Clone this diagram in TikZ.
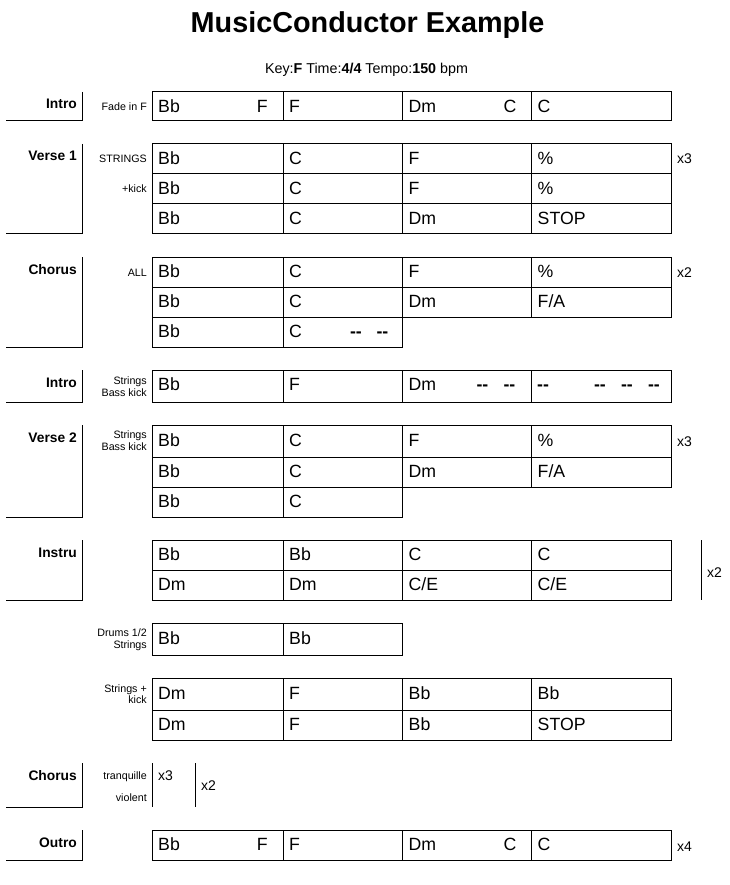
\documentclass[tikz,border=0pt]{standalone}
\usepackage{fontspec}
\setmainfont{Liberation Sans}
\newcommand\chordsz{\fontsize{17.7}{20}\selectfont}
\newcommand\notesz{\fontsize{10.7}{12}\selectfont}
\newcommand\sectsz{\fontsize{13.8}{16}\selectfont\bfseries}
\newcommand\repsz{\fontsize{14}{16}\selectfont}
\tikzset{
  chord/.style={anchor=base west, font=\chordsz, inner sep=0pt},
  chordr/.style={anchor=base east, font=\chordsz, inner sep=0pt},
  dashmark/.style={anchor=base east, font=\chordsz\bfseries, inner sep=0pt},
  dashmarkl/.style={anchor=base west, font=\chordsz\bfseries, inner sep=0pt},
  note/.style={anchor=base east, font=\notesz, inner sep=0pt},
  sect/.style={anchor=base east, font=\sectsz, inner sep=0pt},
  rep/.style={anchor=base west, font=\repsz, inner sep=0pt},
  gridline/.style={line width=1pt, black},
  bracket/.style={line width=1pt, black}
}
% 4-cell row: #1 top, #2 bottom
\newcommand\rowfour[2]{\draw[gridline] (152,#1) rectangle (671.5,#2) (283,#1) -- (283,#2) (402.5,#1) -- (402.5,#2) (531.5,#1) -- (531.5,#2);}
\newcommand\rowtwo[2]{\draw[gridline] (152,#1) rectangle (402.5,#2) (283,#1) -- (283,#2);}
\begin{document}
\begin{tikzpicture}[x=1pt,y=-1pt]
\useasboundingbox (0,0) rectangle (729,885);
\fill[white] (0,0) rectangle (729,885);

% title
\node[anchor=base, inner sep=0pt, font=\fontsize{28.8}{32}\selectfont\bfseries] (title) at (367.5,33) {MusicConductor Example};
\node[anchor=base, inner sep=0pt, font=\fontsize{14.3}{16}\selectfont] (meta) at (366.5,74) {Key:\textbf{F} Time:\textbf{4/4} Tempo:\textbf{150} bpm};

% ---------- Intro ----------
\draw[bracket] (82,92) -- (82,121) -- (6,121);
\node[sect] (s1) at (77,109) {Intro};
\node[note] (n1) at (147,111) {Fade in F};
\rowfour{92}{121}
\node[chord] (i1a) at (158,112.5) {Bb};
\node[chordr] (i1a2) at (268,112.5) {F};
\node[chord] (i1b) at (289,112.5) {F};
\node[chord] (i1c) at (408.5,112.5) {Dm};
\node[chordr] (i1c2) at (516.5,112.5) {C};
\node[chord] (i1d) at (537.5,112.5) {C};

% ---------- Verse 1 ----------
\draw[bracket] (82,144) -- (82,234) -- (6,234);
\node[sect] (s2) at (77,161) {Verse 1};
\node[note] (n2a) at (147,163) {STRINGS};
\node[note] (n2b) at (147,193) {+kick};
\rowfour{144}{174}
\rowfour{174}{204}
\rowfour{204}{234}
\node[chord] (v1a) at (158,164.5) {Bb};
\node[chord] (v1b) at (289,164.5) {C};
\node[chord] (v1c) at (408.5,164.5) {F};
\node[chord] (v1d) at (537.5,164.5) {\%};
\node[chord] (v1e) at (158,194.5) {Bb};
\node[chord] (v1f) at (289,194.5) {C};
\node[chord] (v1g) at (408.5,194.5) {F};
\node[chord] (v1h) at (537.5,194.5) {\%};
\node[chord] (v1i) at (158,224.5) {Bb};
\node[chord] (v1j) at (289,224.5) {C};
\node[chord] (v1k) at (408.5,224.5) {Dm};
\node[chord] (v1l) at (537.5,224.5) {STOP};
\node[rep] (r2) at (677,164) {x3};

% ---------- Chorus ----------
\draw[bracket] (82,257) -- (82,347) -- (6,347);
\node[sect] (s3) at (77,274) {Chorus};
\node[note] (n3) at (147,276) {ALL};
\rowfour{257}{287}
\rowfour{287}{317}
\rowtwo{317}{347}
\node[chord] (c1a) at (158,277.5) {Bb};
\node[chord] (c1b) at (289,277.5) {C};
\node[chord] (c1c) at (408.5,277.5) {F};
\node[chord] (c1d) at (537.5,277.5) {\%};
\node[chord] (c1e) at (158,307.5) {Bb};
\node[chord] (c1f) at (289,307.5) {C};
\node[chord] (c1g) at (408.5,307.5) {Dm};
\node[chord] (c1h) at (537.5,307.5) {F/A};
\node[chord] (c1i) at (158,337.5) {Bb};
\node[chord] (c1j) at (289,337.5) {C};
\node[dashmark] (c1k) at (362,337.5) {-{}-};
\node[dashmark] (c1l) at (388.5,337.5) {-{}-};
\node[rep] (r3) at (677,277) {x2};

% ---------- Intro 2 ----------
\draw[bracket] (82,370) -- (82,402) -- (6,402);
\node[sect] (s4) at (77,387) {Intro};
\node[note] (n4a) at (147,384) {Strings};
\node[note] (n4b) at (147,396) {Bass kick};
\rowfour{370}{402}
\node[chord] (i2a) at (158,390.5) {Bb};
\node[chord] (i2b) at (289,390.5) {F};
\node[chord] (i2c) at (408.5,390.5) {Dm};
\node[dashmark] (i2d) at (488.5,390.5) {-{}-};
\node[dashmark] (i2e) at (515.5,390.5) {-{}-};
\node[dashmarkl] (i2f) at (537,390.5) {-{}-};
\node[dashmark] (i2g) at (606,390.5) {-{}-};
\node[dashmark] (i2h) at (633,390.5) {-{}-};
\node[dashmark] (i2i) at (660,390.5) {-{}-};

% ---------- Verse 2 ----------
\draw[bracket] (82,425) -- (82,517) -- (6,517);
\node[sect] (s5) at (77,442) {Verse 2};
\node[note] (n5a) at (147,438.5) {Strings};
\node[note] (n5b) at (147,450.5) {Bass kick};
\rowfour{425}{457}
\rowfour{457}{487}
\rowtwo{487}{517}
\node[chord] (v2a) at (158,446) {Bb};
\node[chord] (v2b) at (289,446) {C};
\node[chord] (v2c) at (408.5,446) {F};
\node[chord] (v2d) at (537.5,446) {\%};
\node[chord] (v2e) at (158,477.5) {Bb};
\node[chord] (v2f) at (289,477.5) {C};
\node[chord] (v2g) at (408.5,477.5) {Dm};
\node[chord] (v2h) at (537.5,477.5) {F/A};
\node[chord] (v2i) at (158,507.5) {Bb};
\node[chord] (v2j) at (289,507.5) {C};
\node[rep] (r5) at (677,446) {x3};

% ---------- Instru ----------
\draw[bracket] (82,540) -- (82,600) -- (6,600);
\node[sect] (s6) at (77,557) {Instru};
\rowfour{540}{570}
\rowfour{570}{600}
\node[chord] (ia) at (158,560.5) {Bb};
\node[chord] (ib) at (289,560.5) {Bb};
\node[chord] (ic) at (408.5,560.5) {C};
\node[chord] (id) at (537.5,560.5) {C};
\node[chord] (ie) at (158,590.5) {Dm};
\node[chord] (if) at (289,590.5) {Dm};
\node[chord] (ig) at (408.5,590.5) {C/E};
\node[chord] (ih) at (537.5,590.5) {C/E};
\coordinate (rep6t) at (701,540);
\coordinate (rep6b) at (701,600);
\draw[bracket] (rep6t) -- (rep6b);
\node[rep] (r6) at (707,577) {x2};

% ---------- Drums row ----------
\node[note] (n7a) at (147,636) {Drums 1/2};
\node[note] (n7b) at (147,648) {Strings};
\rowtwo{623}{655}
\node[chord] (da) at (158,644) {Bb};
\node[chord] (db) at (289,644) {Bb};

% ---------- Strings + kick ----------
\node[note] (n8a) at (147,692) {Strings +};
\node[note] (n8b) at (147,703.5) {kick};
\rowfour{678}{710}
\rowfour{710}{740}
\node[chord] (ka) at (158,699) {Dm};
\node[chord] (kb) at (289,699) {F};
\node[chord] (kc) at (408.5,699) {Bb};
\node[chord] (kd) at (537.5,699) {Bb};
\node[chord] (ke) at (158,730.5) {Dm};
\node[chord] (kf) at (289,730.5) {F};
\node[chord] (kg) at (408.5,730.5) {Bb};
\node[chord] (kh) at (537.5,730.5) {STOP};

% ---------- Chorus 2 ----------
\draw[bracket] (82,763) -- (82,807) -- (6,807);
\node[sect] (s9) at (77,780) {Chorus};
\node[note] (n9a) at (147,779) {tranquille};
\node[note] (n9b) at (147,801) {violent};
\draw[bracket] (152,763) -- (152,807);
\draw[bracket] (195,763) -- (195,807);
\node[rep] (r9a) at (158,780) {x3};
\node[rep] (r9b) at (201,790) {x2};

% ---------- Outro ----------
\draw[bracket] (82,830) -- (82,860) -- (6,860);
\node[sect] (s10) at (77,847) {Outro};
\rowfour{830}{860}
\node[chord] (oa) at (158,850.5) {Bb};
\node[chordr] (oa2) at (268,850.5) {F};
\node[chord] (ob) at (289,850.5) {F};
\node[chord] (oc) at (408.5,850.5) {Dm};
\node[chordr] (oc2) at (516.5,850.5) {C};
\node[chord] (od) at (537.5,850.5) {C};
\node[rep] (r10) at (677,851) {x4};
\end{tikzpicture}
\end{document}
